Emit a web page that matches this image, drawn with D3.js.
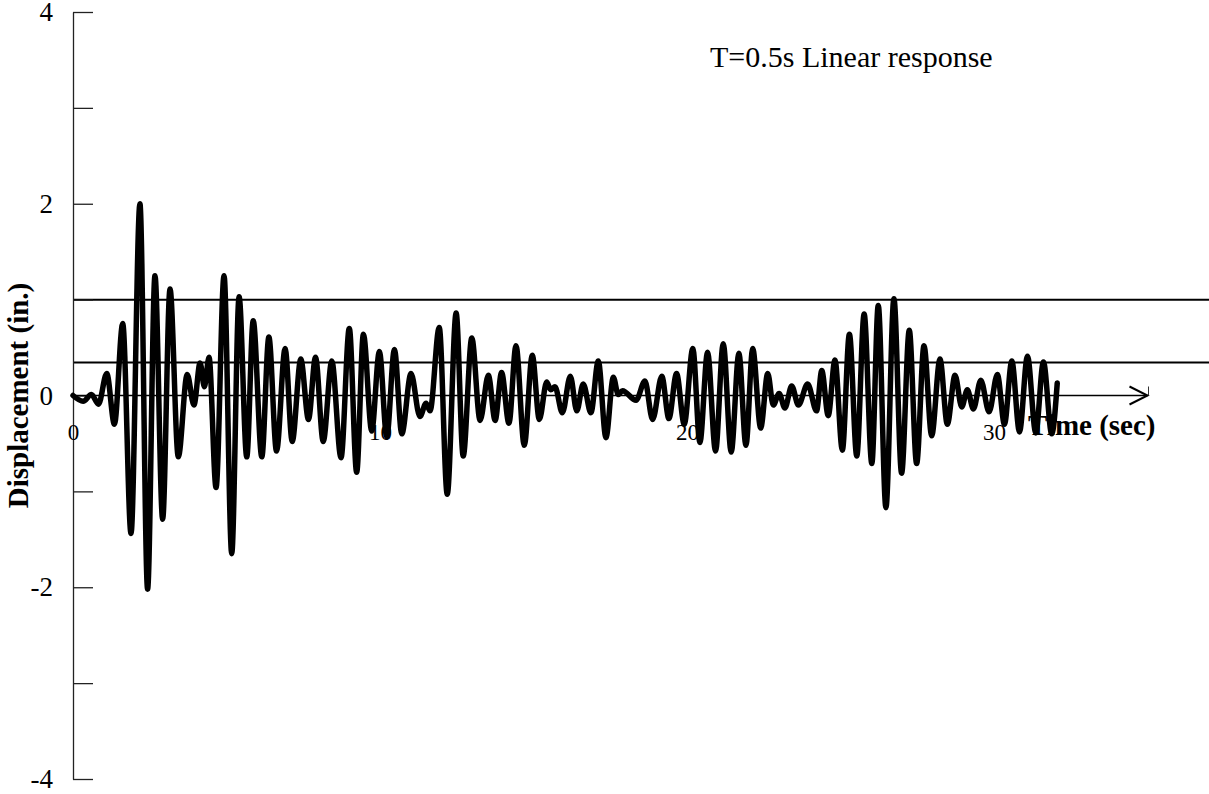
<!DOCTYPE html>
<html>
<head>
<meta charset="utf-8">
<script src="https://cdn.jsdelivr.net/npm/d3@7"></script>
<style>
  html, body { margin: 0; padding: 0; background: #fff; }
  svg { display: block; }
  text { font-family: "Liberation Serif", "Times New Roman", serif; fill: #000; }
</style>
</head>
<body>
<svg id="chart" width="1209" height="794"></svg>
<script>
// ---- data ----
const title = "T=0.5s Linear response";
const xLabel = "Time (sec)";
const yLabel = "Displacement (in.)";
const xTickValues = [0, 10, 20, 30];
const yTickValues = [-4, -3, -2, -1, 0, 1, 2, 3, 4];
const yLabelledTicks = [-4, -2, 0, 2, 4];
const thresholdLevels = [1.0, 0.345];

// times (sec) of successive extremes of the response
const times = [
  0.00, 0.33, 0.60, 0.83, 1.10, 1.35, 1.62, 1.89, 2.18, 2.43, 2.67, 2.92, 3.16, 3.43, 3.72, 3.94,
  4.14, 4.28, 4.43, 4.66, 4.92, 5.17, 5.41, 5.66, 5.87, 6.15, 6.38, 6.63, 6.91, 7.14, 7.42, 7.67,
  7.90, 8.15, 8.43, 8.73, 9.00, 9.24, 9.46, 9.73, 9.98, 10.22, 10.47, 10.71, 11.01, 11.30, 11.50, 11.63,
  11.93, 12.19, 12.48, 12.71, 12.99, 13.26, 13.53, 13.75, 13.96, 14.20, 14.43, 14.70, 14.96, 15.19,
  15.43, 15.56, 15.70, 15.94, 16.20, 16.41, 16.62, 16.87, 17.11, 17.36, 17.60, 17.76, 17.90, 18.34,
  18.63, 18.88, 19.18, 19.41, 19.66, 19.91, 20.19, 20.42, 20.67, 20.93, 21.18, 21.44, 21.69, 21.92,
  22.14, 22.40, 22.63, 22.81, 23.00, 23.19, 23.41, 23.63, 23.93, 24.22, 24.39, 24.60, 24.82, 25.06,
  25.29, 25.53, 25.77, 26.02, 26.23, 26.48, 26.74, 26.99, 27.24, 27.48, 27.72, 27.97, 28.24, 28.48,
  28.73, 28.95, 29.13, 29.33, 29.57, 29.84, 30.11, 30.34, 30.58, 30.83, 31.09, 31.36, 31.61, 31.88, 32.06
];
// displacement (in.) at those extremes
const displacement = [
  0.00, -0.06, 0.01, -0.09, 0.23, -0.30, 0.75, -1.44, 2.00, -2.02, 1.25, -1.29, 1.11, -0.64, 0.22, -0.10,
  0.34, 0.09, 0.40, -0.96, 1.25, -1.65, 1.03, -0.64, 0.78, -0.64, 0.61, -0.58, 0.49, -0.48, 0.38, -0.25,
  0.40, -0.48, 0.36, -0.65, 0.70, -0.80, 0.64, -0.37, 0.46, -0.43, 0.48, -0.40, 0.23, -0.22, -0.08, -0.16,
  0.71, -1.03, 0.86, -0.63, 0.60, -0.26, 0.21, -0.26, 0.24, -0.29, 0.52, -0.52, 0.42, -0.25,
  0.14, 0.06, 0.09, -0.18, 0.20, -0.16, 0.12, -0.18, 0.36, -0.44, 0.19, 0.01, 0.05, -0.05,
  0.15, -0.25, 0.20, -0.24, 0.23, -0.30, 0.49, -0.49, 0.45, -0.58, 0.54, -0.59, 0.44, -0.52,
  0.49, -0.34, 0.23, -0.10, 0.02, -0.13, 0.10, -0.10, 0.12, -0.16, 0.26, -0.21, 0.37, -0.57,
  0.64, -0.63, 0.85, -0.71, 0.94, -1.17, 1.01, -0.81, 0.68, -0.71, 0.52, -0.42, 0.38, -0.30,
  0.21, -0.12, 0.06, -0.14, 0.16, -0.17, 0.22, -0.30, 0.36, -0.38, 0.41, -0.39, 0.35, -0.40, 0.13
];

// ---- drawing ----
const svg = d3.select("#chart");
const W = 1209;
const serif = '"Liberation Serif", "Times New Roman", serif';

const x = d3.scaleLinear().domain([0, 35]).range([73, 1147.5]);
const y = d3.scaleLinear().domain([-4, 4]).range([779, 12]);

// threshold lines
svg.selectAll("line.thr").data(thresholdLevels).enter().append("line")
  .attr("class", "thr")
  .attr("x1", x(0)).attr("x2", W)
  .attr("y1", d => y(d)).attr("y2", d => y(d))
  .attr("stroke", "#000").attr("stroke-width", 2);

// y axis
const yAxis = d3.axisLeft(y)
  .tickValues(yTickValues)
  .tickSizeInner(-20)
  .tickSizeOuter(0)
  .tickPadding(20)
  .tickFormat(d => yLabelledTicks.includes(d) ? String(d) : "");
const gy = svg.append("g").attr("transform", `translate(${x(0)},0)`).call(yAxis);
gy.select(".domain").attr("stroke", "#222").attr("stroke-width", 1.3);
gy.selectAll(".tick line").attr("stroke", "#222").attr("stroke-width", 1.3);
gy.selectAll(".tick text")
  .attr("font-family", serif)
  .attr("font-size", 27).attr("fill", "#000");

// x axis (labels only, line with arrow drawn below)
const xAxis = d3.axisBottom(x)
  .tickValues(xTickValues)
  .tickSize(0)
  .tickPadding(28)
  .tickFormat(d => String(d));
const gx = svg.append("g").attr("transform", `translate(0,${y(0)})`).call(xAxis);
gx.select(".domain").remove();
gx.selectAll(".tick text")
  .attr("font-family", serif)
  .attr("font-size", 23).attr("fill", "#000");

// x axis line and arrow
const x0 = x(0), xe = x(35), y0 = y(0);
svg.append("line").attr("x1", x0).attr("x2", xe).attr("y1", y0).attr("y2", y0)
  .attr("stroke", "#000").attr("stroke-width", 1.6);
svg.append("path")
  .attr("d", `M${xe - 18},${y0 - 9} L${xe},${y0} L${xe - 18},${y0 + 9}`)
  .attr("fill", "none").attr("stroke", "#000").attr("stroke-width", 2);
svg.append("line").attr("x1", xe + 1).attr("x2", xe + 1).attr("y1", y0 - 9).attr("y2", y0)
  .attr("stroke", "#333").attr("stroke-width", 1);

// axis titles
svg.append("text")
  .attr("x", 1028).attr("y", 435)
  .attr("font-size", 29).attr("font-weight", "bold")
  .text(xLabel);
svg.append("text")
  .attr("transform", `translate(28,${y(0)}) rotate(-90)`)
  .attr("text-anchor", "middle")
  .attr("font-size", 29).attr("font-weight", "bold")
  .text(yLabel);

// title
svg.append("text")
  .attr("x", 710).attr("y", 67)
  .attr("font-size", 30)
  .text(title);

// response curve
const pts = times.map((t, i) => [t, displacement[i]]);
const line = d3.line()
  .x(d => x(d[0]))
  .y(d => y(d[1]))
  .curve(d3.curveMonotoneX);
svg.append("path")
  .datum(pts)
  .attr("d", line)
  .attr("fill", "none")
  .attr("stroke", "#000")
  .attr("stroke-width", 5.5)
  .attr("stroke-linejoin", "round")
  .attr("stroke-linecap", "round");
</script>
</body>
</html>
